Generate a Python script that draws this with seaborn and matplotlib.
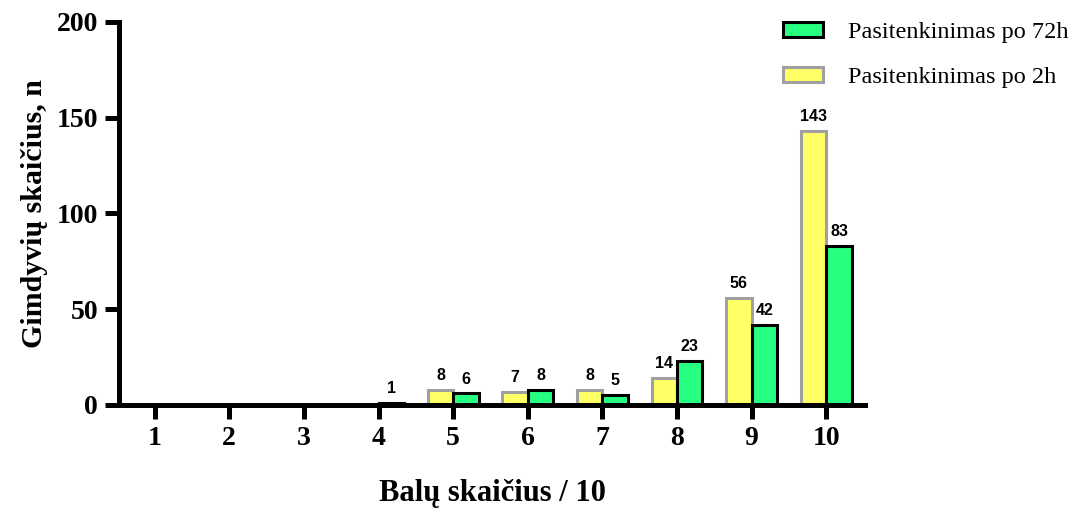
import pandas as pd
import matplotlib
matplotlib.use('Agg')
import matplotlib.pyplot as plt
from matplotlib.patches import Patch
import seaborn as sns

# Duomenys
scores = [1, 2, 3, 4, 5, 6, 7, 8, 9, 10]
after_2h = [0, 0, 0, 0, 8, 7, 8, 14, 56, 143]
after_72h = [0, 0, 0, 1, 6, 8, 5, 23, 42, 83]
series_names = ["Pasitenkinimas po 2h", "Pasitenkinimas po 72h"]
y_ticks = [0, 50, 100, 150, 200]

fill_colors = ["#FFFF66", "#26FF80"]
edge_colors = ["#A0A0A0", "#000000"]

df = pd.DataFrame({
    "score": scores * 2,
    "n": after_2h + after_72h,
    "series": [series_names[0]] * len(scores) + [series_names[1]] * len(scores),
})

sns.set_style("ticks")
plt.rcParams['font.family'] = ['Liberation Serif', 'DejaVu Serif']
plt.rcParams['text.color'] = 'black'
plt.rcParams['axes.labelcolor'] = 'black'
plt.rcParams['xtick.color'] = 'black'
plt.rcParams['ytick.color'] = 'black'

fig = plt.figure(figsize=(10.8, 5.11), dpi=100)
ax = fig.add_axes([0.110, 0.2075, 0.691, 0.7495])

sns.barplot(data=df, x="score", y="n", hue="series", hue_order=series_names,
            palette=fill_colors, width=0.68, linewidth=2.2, saturation=1,
            legend=False, ax=ax)

for cont, ec in zip(ax.containers, edge_colors):
    for bar in cont:
        bar.set_edgecolor(ec)
    vals = [int(b.get_height()) for b in cont]
    ax.bar_label(cont, labels=[str(v) if v > 0 else "" for v in vals],
                 padding=5, fontsize=11.5, fontweight='bold', color='black',
                 family=['Liberation Sans', 'DejaVu Sans'])

ax.set_ylim(0, 200)
ax.set_yticks(y_ticks)
ax.set_xlim(-0.48, 9.52)

sns.despine(ax=ax)
for side in ["left", "bottom"]:
    ax.spines[side].set_linewidth(3.6)
    ax.spines[side].set_color("black")
ax.tick_params(axis='both', width=3.6, length=10, color='black',
               labelcolor='black', labelsize=20, pad=5)
for lbl in ax.get_xticklabels() + ax.get_yticklabels():
    lbl.set_fontweight('bold')

ax.set_xlabel("Balų skaičius / 10", fontsize=22, fontweight='bold', labelpad=20)
ax.set_ylabel("Gimdyvių skaičius, n", fontsize=21.5, fontweight='bold', labelpad=6)

handles = [
    Patch(facecolor=fill_colors[1], edgecolor=edge_colors[1], linewidth=2.2, label=series_names[1]),
    Patch(facecolor=fill_colors[0], edgecolor=edge_colors[0], linewidth=2.2, label=series_names[0]),
]
fig.legend(handles=handles, loc='upper left', bbox_to_anchor=(0.705, 1.0),
           frameon=False, fontsize=17.5, handlelength=1.65, handleheight=0.57,
           handletextpad=1.0, labelspacing=1.0)

plt.savefig("out.png", dpi=100)
plt.close()
